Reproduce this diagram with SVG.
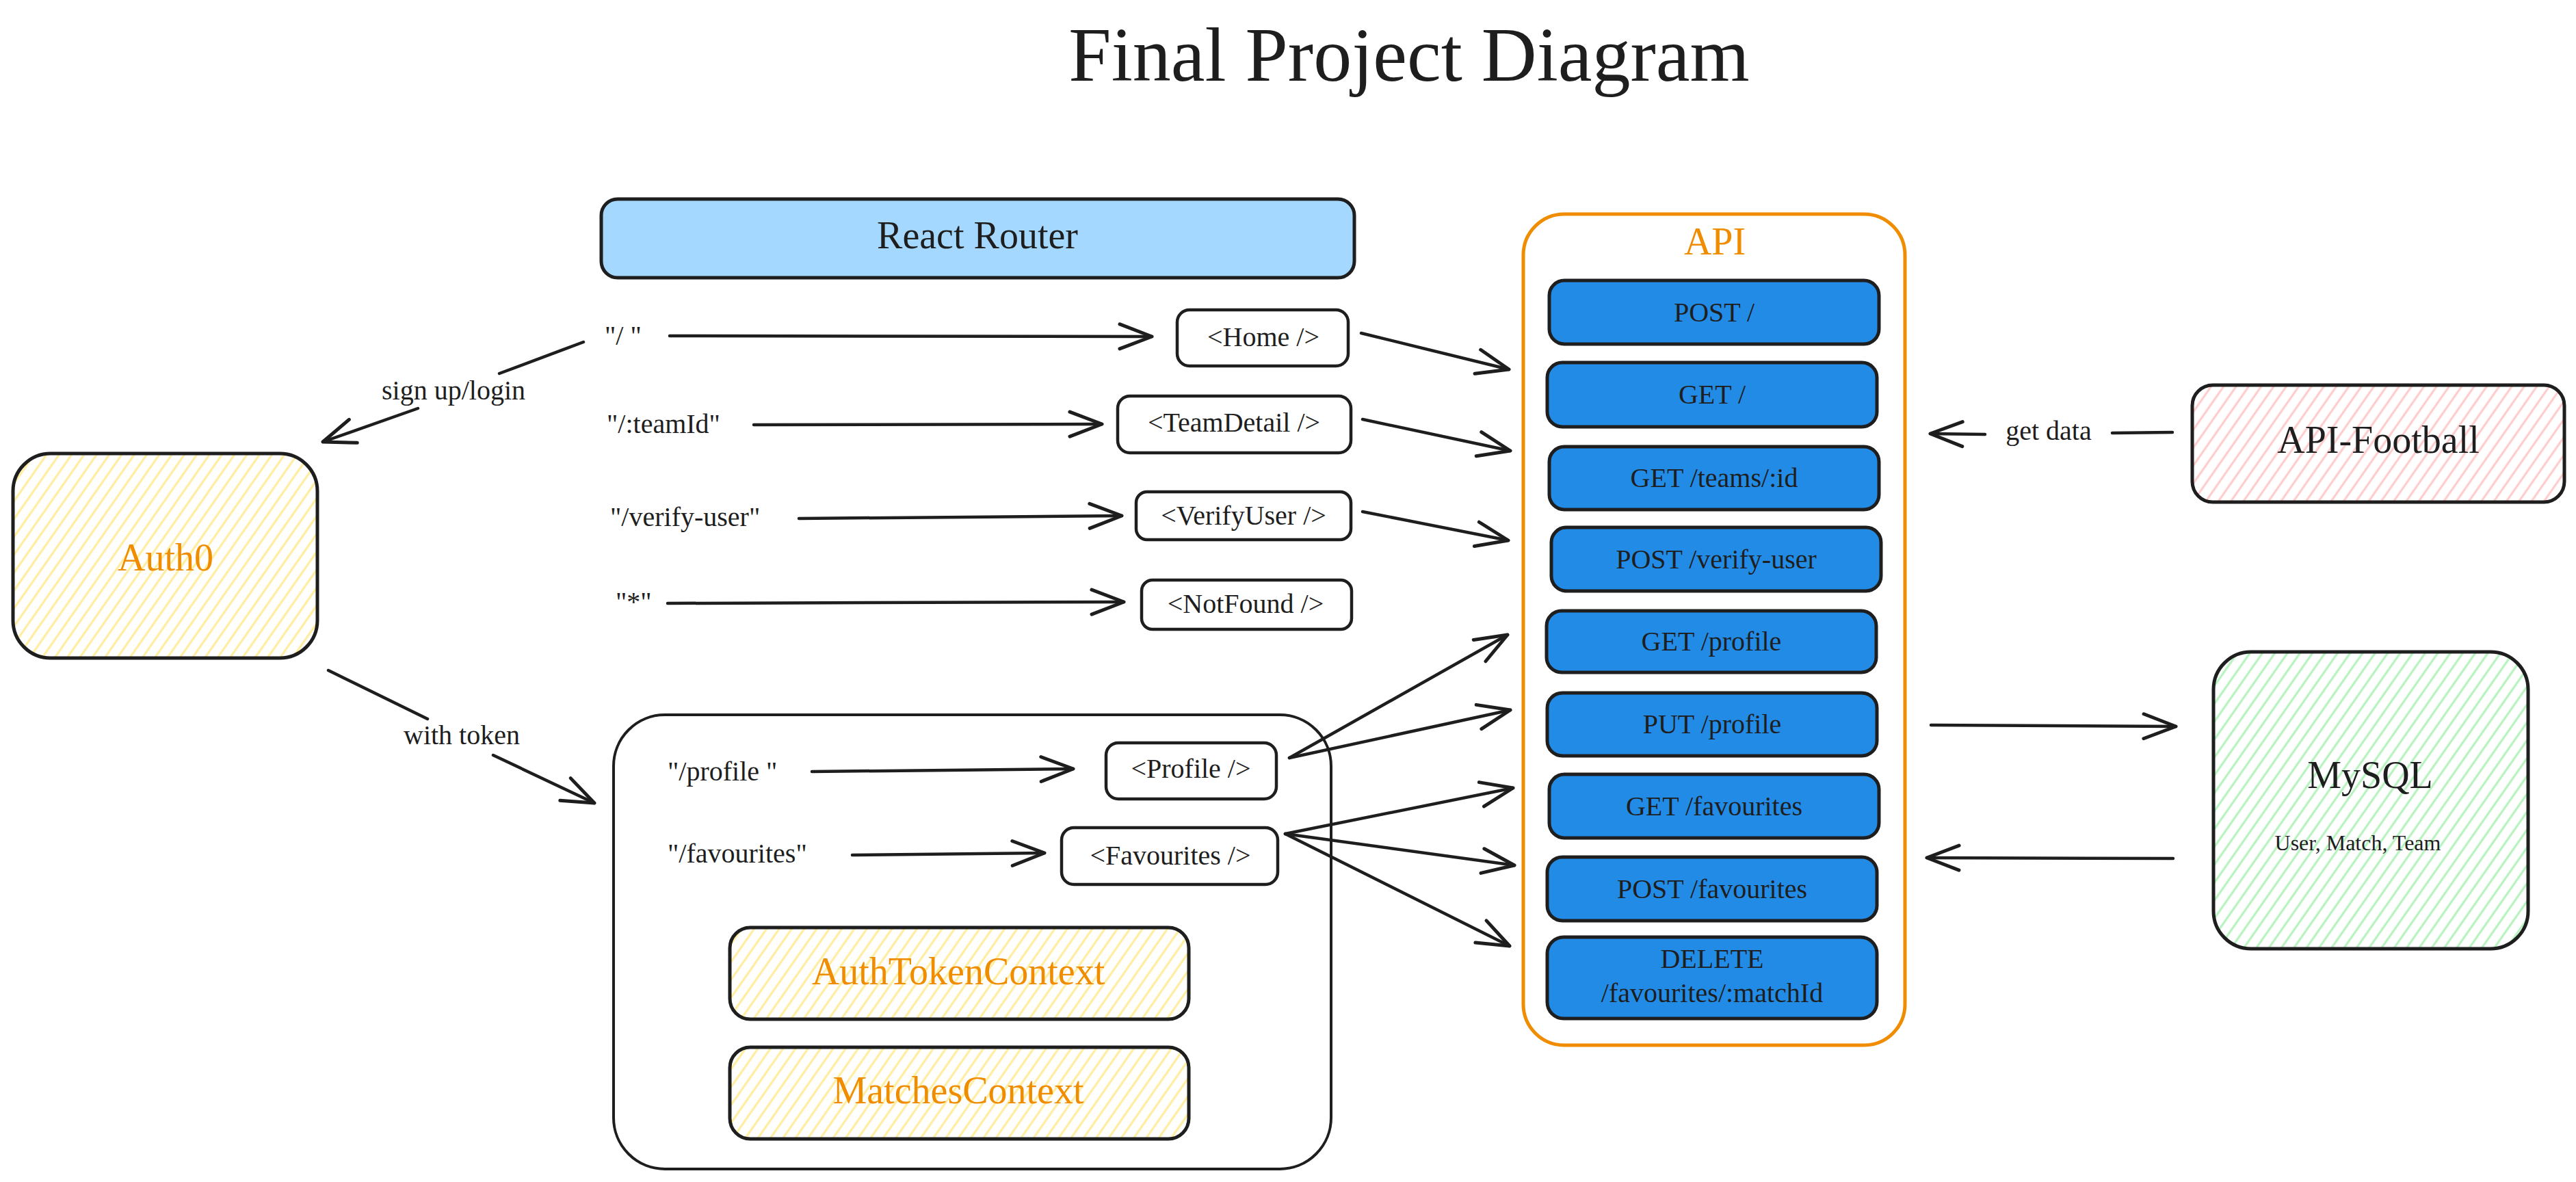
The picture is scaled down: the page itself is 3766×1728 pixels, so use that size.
<svg xmlns="http://www.w3.org/2000/svg" width="3766" height="1728" viewBox="0 0 3766 1728">
<style>
  text { font-family: "Liberation Serif", "Times New Roman", serif; fill: #1e1e1e; }
  .t40 { font-size: 40px; }
  .t56 { font-size: 56px; }
  .t32 { font-size: 32px; }
  .mid { text-anchor: middle; }
  .org { fill: #f08c00; }
  .box { fill: #ffffff; stroke: #1e1e1e; stroke-width: 4.5; }
  .ep { fill: #228be6; stroke: #1e1e1e; stroke-width: 5; }
  .rr { fill: #a5d8ff; stroke: #1e1e1e; stroke-width: 5; }
  .yel { fill: url(#hY); stroke: #1e1e1e; stroke-width: 5; }
  .red { fill: url(#hR); stroke: #1e1e1e; stroke-width: 5; }
  .grn { fill: url(#hG); stroke: #1e1e1e; stroke-width: 5; }
  .cont { fill: none; stroke: #1e1e1e; stroke-width: 4; }
  .api { fill: none; stroke: #f08c00; stroke-width: 5; }
  .con { fill: none; stroke: #1e1e1e; stroke-width: 4.5; stroke-linecap: round; marker-end: url(#ah); }
</style>
<defs>
  <pattern id="hY" patternUnits="userSpaceOnUse" width="15" height="15" patternTransform="rotate(35)">
    <rect width="15" height="15" fill="#ffffff"/>
    <line x1="2" y1="0" x2="2" y2="15" stroke="#ffec99" stroke-width="3"/>
  </pattern>
  <pattern id="hR" patternUnits="userSpaceOnUse" width="15" height="15" patternTransform="rotate(35)">
    <rect width="15" height="15" fill="#ffffff"/>
    <line x1="2" y1="0" x2="2" y2="15" stroke="#ffc9c9" stroke-width="3"/>
  </pattern>
  <pattern id="hG" patternUnits="userSpaceOnUse" width="15" height="15" patternTransform="rotate(35)">
    <rect width="15" height="15" fill="#ffffff"/>
    <line x1="2" y1="0" x2="2" y2="15" stroke="#b2f2bb" stroke-width="3"/>
  </pattern>
  <marker id="ah" markerUnits="userSpaceOnUse" markerWidth="70" markerHeight="60" viewBox="-60 -30 70 60" refX="0" refY="0" orient="auto" overflow="visible">
    <path d="M-47,-18 L0,0 L-47,18" fill="none" stroke="#1e1e1e" stroke-width="5" stroke-linecap="round" stroke-linejoin="round"/>
  </marker>
</defs>
<rect width="3766" height="1728" fill="#ffffff"/>

<text id="title" x="2060" y="118" class="mid" font-size="112">Final Project Diagram</text>

<g id="auth0">
  <rect x="19" y="663" width="445" height="299" rx="55" class="yel"/>
  <text x="242" y="834" class="t56 mid org">Auth0</text>
</g>

<g id="react-router">
  <rect x="879" y="291" width="1101" height="115" rx="24" class="rr"/>
  <text x="1429" y="363" class="t56 mid">React Router</text>
</g>

<g id="route-labels">
  <text x="884" y="504" class="t40">"/ "</text>
  <text x="887" y="633" class="t40">"/:teamId"</text>
  <text x="892" y="769" class="t40">"/verify-user"</text>
  <text x="900" y="893" class="t40">"*"</text>
  <text x="976" y="1141" class="t40">"/profile "</text>
  <text x="976" y="1261" class="t40">"/favourites"</text>
</g>

<g id="home">
  <rect x="1721" y="453" width="250" height="82" rx="18" class="box"/>
  <text x="1847" y="506" class="t40 mid">&lt;Home /&gt;</text>
</g>
<g id="teamdetail">
  <rect x="1634" y="579" width="341" height="83" rx="18" class="box"/>
  <text x="1804" y="631" class="t40 mid">&lt;TeamDetail /&gt;</text>
</g>
<g id="verifyuser">
  <rect x="1661" y="719" width="314" height="70" rx="16" class="box"/>
  <text x="1818" y="767" class="t40 mid">&lt;VerifyUser /&gt;</text>
</g>
<g id="notfound">
  <rect x="1669" y="848" width="307" height="72" rx="16" class="box"/>
  <text x="1821" y="896" class="t40 mid">&lt;NotFound /&gt;</text>
</g>

<g id="protected-container">
  <rect x="897" y="1045" width="1049" height="664" rx="75" class="cont"/>
</g>
<g id="profile">
  <rect x="1617" y="1086" width="249" height="82" rx="18" class="box"/>
  <text x="1741" y="1137" class="t40 mid">&lt;Profile /&gt;</text>
</g>
<g id="favourites">
  <rect x="1552" y="1210" width="316" height="83" rx="18" class="box"/>
  <text x="1711" y="1264" class="t40 mid">&lt;Favourites /&gt;</text>
</g>
<g id="authtokencontext">
  <rect x="1067" y="1356" width="671" height="134" rx="30" class="yel"/>
  <text x="1401" y="1439" class="t56 mid org">AuthTokenContext</text>
</g>
<g id="matchescontext">
  <rect x="1067" y="1531" width="671" height="134" rx="30" class="yel"/>
  <text x="1401" y="1613" class="t56 mid org">MatchesContext</text>
</g>

<g id="api">
  <rect x="2227" y="313" width="558" height="1215" rx="60" class="api"/>
  <text x="2507" y="372" class="t56 mid org">API</text>
</g>
<g id="ep-post-root">
  <rect x="2265" y="410" width="482" height="93" rx="22" class="ep"/>
  <text x="2506" y="470" class="t40 mid">POST /</text>
</g>
<g id="ep-get-root">
  <rect x="2262" y="530" width="482" height="94" rx="22" class="ep"/>
  <text x="2503" y="590" class="t40 mid">GET /</text>
</g>
<g id="ep-get-team">
  <rect x="2265" y="653" width="482" height="92" rx="22" class="ep"/>
  <text x="2506" y="712" class="t40 mid">GET /teams/:id</text>
</g>
<g id="ep-post-verify">
  <rect x="2268" y="771" width="482" height="93" rx="22" class="ep"/>
  <text x="2509" y="831" class="t40 mid">POST /verify-user</text>
</g>
<g id="ep-get-profile">
  <rect x="2261" y="893" width="482" height="90" rx="22" class="ep"/>
  <text x="2502" y="951" class="t40 mid">GET /profile</text>
</g>
<g id="ep-put-profile">
  <rect x="2262" y="1013" width="482" height="92" rx="22" class="ep"/>
  <text x="2503" y="1072" class="t40 mid">PUT /profile</text>
</g>
<g id="ep-get-fav">
  <rect x="2265" y="1132" width="482" height="93" rx="22" class="ep"/>
  <text x="2506" y="1192" class="t40 mid">GET /favourites</text>
</g>
<g id="ep-post-fav">
  <rect x="2262" y="1253" width="482" height="93" rx="22" class="ep"/>
  <text x="2503" y="1313" class="t40 mid">POST /favourites</text>
</g>
<g id="ep-delete-fav">
  <rect x="2262" y="1370" width="482" height="119" rx="24" class="ep"/>
  <text x="2503" y="1415" class="t40 mid">DELETE</text>
  <text x="2503" y="1465" class="t40 mid">/favourites/:matchId</text>
</g>

<g id="api-football">
  <rect x="3205" y="563" width="544" height="171" rx="30" class="red"/>
  <text x="3477" y="662" class="t56 mid">API-Football</text>
</g>
<g id="mysql">
  <rect x="3236" y="953" width="460" height="434" rx="55" class="grn"/>
  <text x="3465" y="1152" class="t56 mid">MySQL</text>
  <text x="3447" y="1243" class="t32 mid">User, Match, Team</text>
</g>

<g id="connectors">
  <path class="con" d="M853,500 L730,546 M611,597 L472,646"/>
  <text x="663" y="584" class="t40 mid">sign up/login</text>
  <path class="con" d="M480,980 L625,1051 M721,1104 L869,1174"/>
  <text x="675" y="1088" class="t40 mid">with token</text>

  <path class="con" d="M979,491 L1684,492"/>
  <path class="con" d="M1102,621 L1611,620"/>
  <path class="con" d="M1168,758 L1640,754"/>
  <path class="con" d="M976,882 L1643,880"/>
  <path class="con" d="M1187,1128 L1569,1124"/>
  <path class="con" d="M1246,1250 L1527,1247"/>

  <path class="con" d="M1990,487 L2206,540"/>
  <path class="con" d="M1992,613 L2208,659"/>
  <path class="con" d="M1992,748 L2205,790"/>
  <path class="con" d="M1885,1108 L2204,928"/>
  <path class="con" d="M1885,1108 L2208,1038"/>
  <path class="con" d="M1879,1219 L2212,1152"/>
  <path class="con" d="M1879,1219 L2214,1265"/>
  <path class="con" d="M1879,1219 L2207,1383"/>

  <path class="con" d="M3176,632 L3088,633 M2902,635 L2822,634"/>
  <text x="2995" y="643" class="t40 mid">get data</text>
  <path class="con" d="M2823,1060 L3181,1062"/>
  <path class="con" d="M3177,1255 L2817,1254"/>
</g>
</svg>
